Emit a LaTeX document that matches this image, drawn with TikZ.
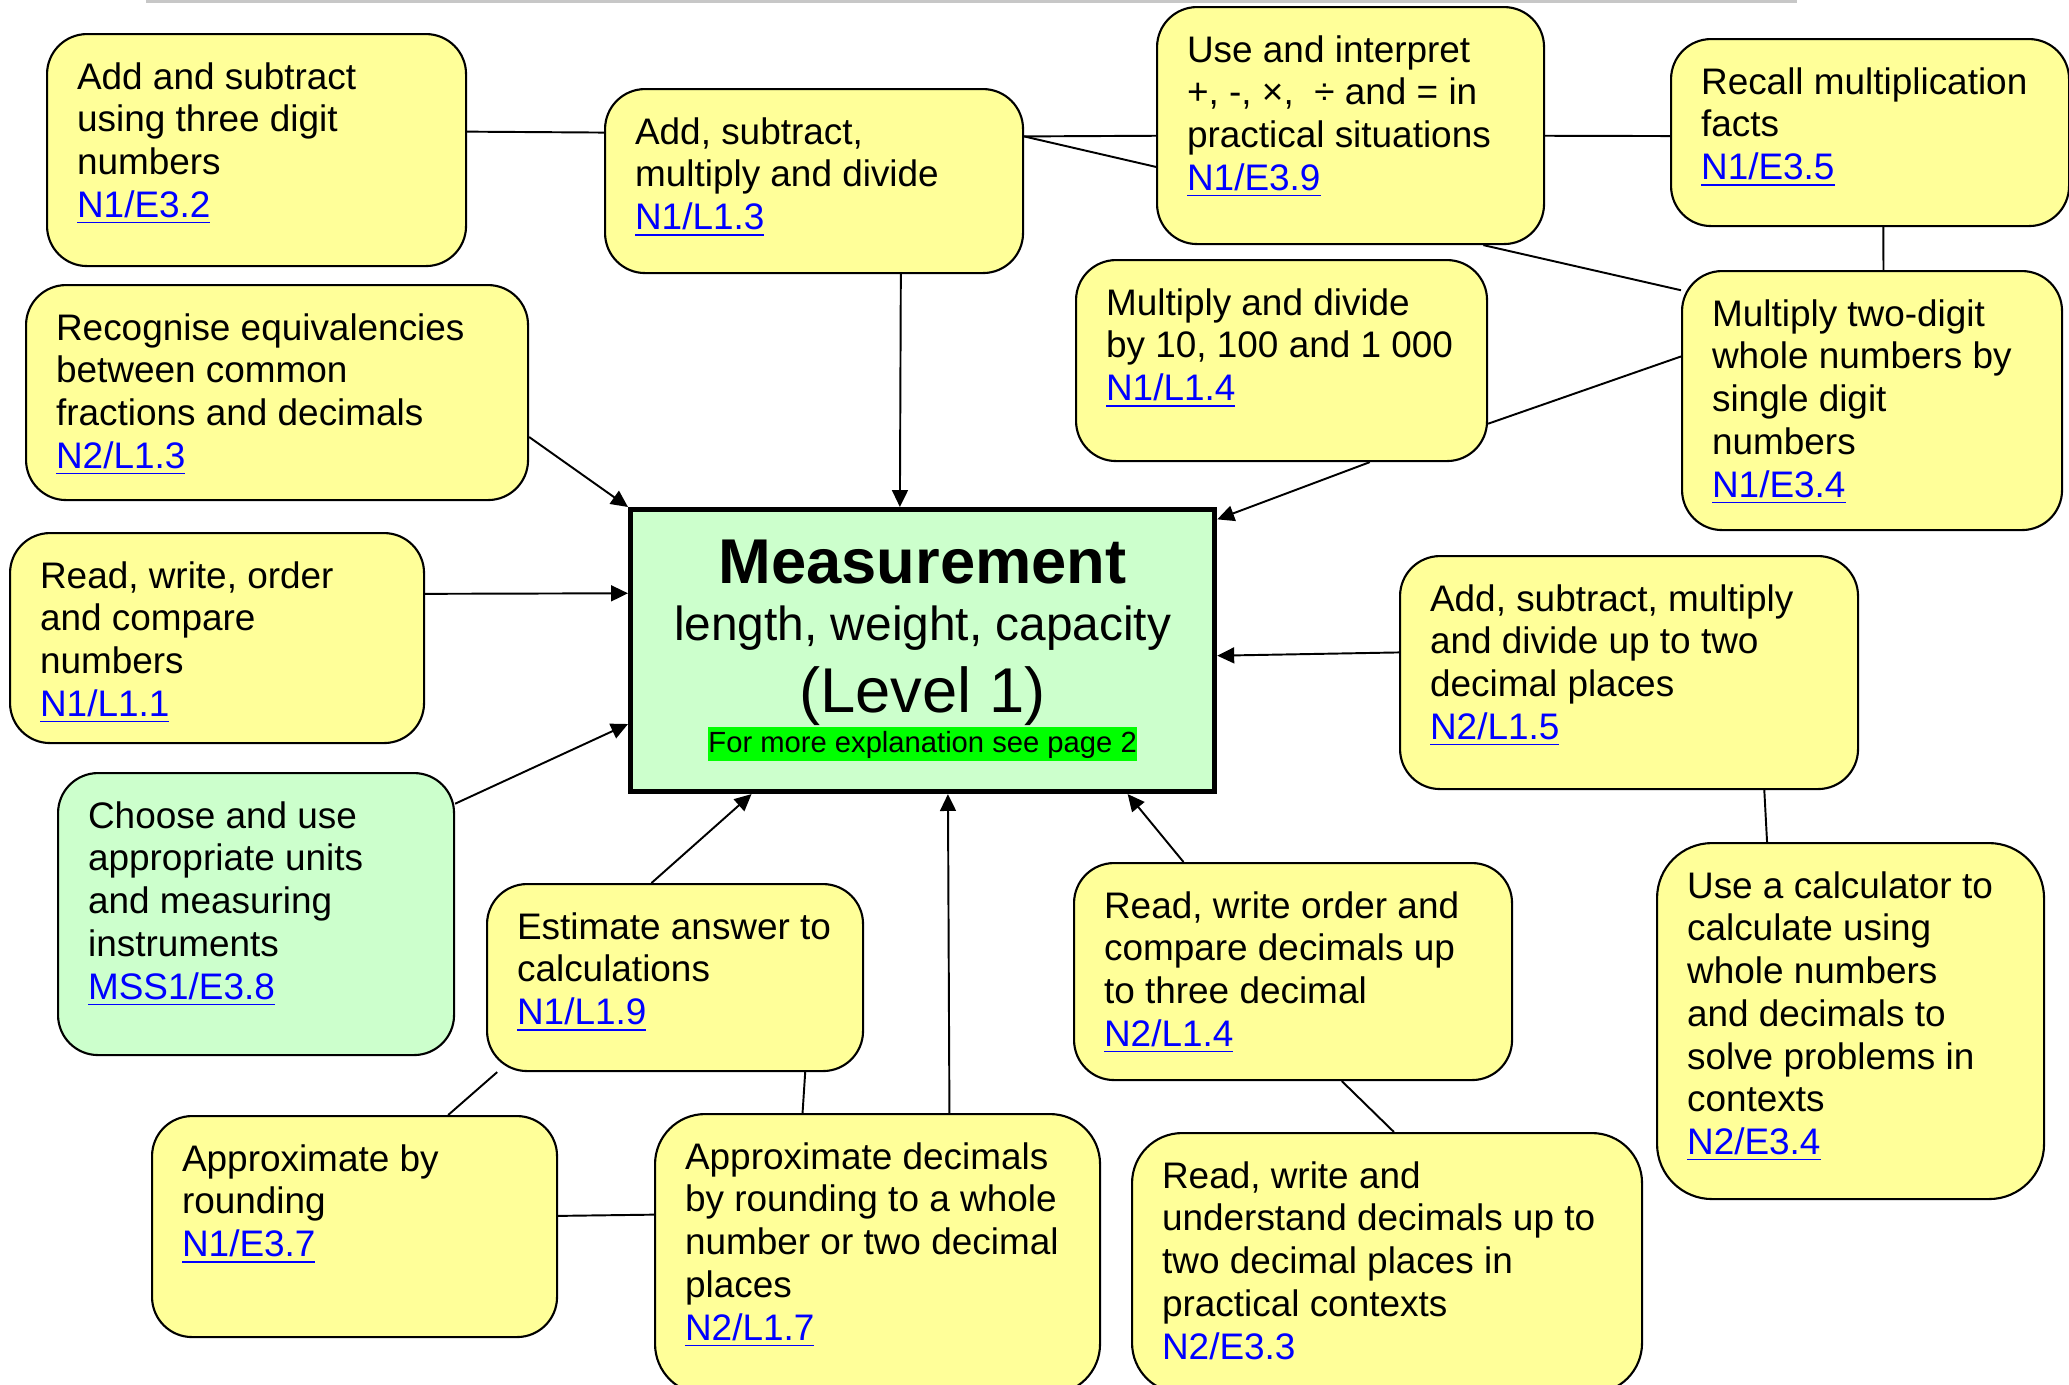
\documentclass[tikz,border=0pt]{standalone}
\usepackage{fontspec}
\setmainfont{Liberation Sans}
\usetikzlibrary{arrows.meta}
\definecolor{boxyellow}{HTML}{FFFF99}
\definecolor{boxgreen}{HTML}{CCFFCC}
\definecolor{hilite}{HTML}{00FF00}
\definecolor{linkblue}{HTML}{0000FF}
\newcommand\lnk[1]{\textcolor{linkblue}{\underline{#1}}}
\begin{document}
\begin{tikzpicture}[x=.01cm,y=-.01cm,
 topic/.style 2 args={draw, line width=.6pt, fill=boxyellow, rounded corners=.4cm, anchor=north west, align=flush left,
   inner xsep=.3cm, inner ysep=0pt, text width=#1*.01cm-.6cm, text height=.55cm, text depth=#2*.01cm-.55cm,
   font={\fontsize{10.5}{12.15}\selectfont}, execute at begin node={\rightskip=0pt plus 1fil minus .5cm}},
 tie/.style={line width=.55pt},
 into/.style={tie, -{Triangle[length=4.8pt,width=4.5pt]}}]
\useasboundingbox (0,0) rectangle (2069,1384);
\draw[black!22, line width=1pt] (146,1) -- (1797,1);
% centre
\node[draw, line width=1.4pt, fill=boxgreen, anchor=north west, inner sep=0pt, text width=5.84cm, align=flush center,
  text height=.74cm, text depth=2.08cm] (X) at (628,507)
  {{\fontsize{18}{21}\selectfont\bfseries Measurement\par}
   {\fontsize{13.6}{16.2}\selectfont length, weight, capacity\par}
   {\fontsize{18}{20.5}\selectfont (Level 1)\par}
   {\fontsize{8.3}{11.4}\selectfont\fboxsep=0pt\colorbox{hilite}{\rule[-2.3pt]{0pt}{9.6pt}For more explanation see page 2}\par}};
% top row
\node[topic={419}{232}] (A) at (46,33) {Add and subtract\\ using three digit\\ numbers\\ \lnk{N1/E3.2}};
\node[topic={418}{184}] (B) at (604,88) {Add, subtract,\\ multiply and divide\\ \lnk{N1/L1.3}};
\node[topic={387}{237}] (C) at (1156,6) {Use and interpret\\ +, -, ×,~~÷ and = in\\ practical situations\\ \lnk{N1/E3.9}};
\node[topic={398}{187}] (D) at (1670,38) {Recall multiplication\\ facts\\ \lnk{N1/E3.5}};
\node[topic={411}{201}] (E) at (1075,259) {Multiply and divide\\ by 10, 100 and 1~000\\ \lnk{N1/L1.4}};
\node[topic={380}{259}] (F) at (1681,270) {Multiply two-digit\\ whole numbers by\\ single digit\\ numbers\\ \lnk{N1/E3.4}};
% left side
\node[topic={502}{215}] (G) at (25,284) {Recognise equivalencies\\ between common\\ fractions and decimals\\ \lnk{N2/L1.3}};
\node[topic={414}{210}] (H) at (9,532) {Read, write, order\\ and compare\\ numbers\\ \lnk{N1/L1.1}};
\node[topic={396}{282}, fill=boxgreen] (J) at (57,772) {Choose and use\\ appropriate units\\ and measuring\\ instruments\\ \lnk{MSS1/E3.8}};
% right side
\node[topic={458}{233}] (I) at (1399,555) {Add, subtract, multiply\\ and divide up to two\\ decimal places\\ \lnk{N2/L1.5}};
\node[topic={387}{356}, rounded corners=.55cm] (M) at (1656,842) {Use a calculator to\\ calculate using\\ whole numbers\\ and decimals to\\ solve problems in\\ contexts\\ \lnk{N2/E3.4}};
% bottom
\node[topic={376}{187}] (K) at (486,883) {Estimate answer to\\ calculations\\ \lnk{N1/L1.9}};
\node[topic={438}{217}] (L) at (1073,862) {Read, write order and\\ compare decimals up\\ to three decimal\\ \lnk{N2/L1.4}};
\node[topic={405}{221}] (N) at (151,1115) {Approximate by\\ rounding\\ \lnk{N1/E3.7}};
\node[topic={445}{280}, rounded corners=.5cm] (O) at (654,1113) {Approximate decimals\\ by rounding to a whole\\ number or two decimal\\ places\\ \lnk{N2/L1.7}};
\node[topic={510}{260}, rounded corners=.5cm] (P) at (1131,1132) {Read, write and\\ understand decimals up to\\ two decimal places in\\ practical contexts\\ \textcolor{linkblue}{N2/E3.3}};
% plain links
\foreach \s/\t in {A.5/B.167, B.12/C.183, B.12/C.192, C.357/D.181, C.318/F.150, D.278/F.85, F.167/E.343,
  I.319/M.115, L.294/P.87, K.324/O.118, K.208/N.50, N.3/O.170}
  \draw[tie] (\s) -- (\t);
% arrows into the centre
\foreach \s/\t in {B.313/X.99, E.311/X.24, G.350/X.north west, H.12/X.169, J.29/X.194, K.104/X.220,
  O.63/X.280, L.135/X.325, I.175/X.359}
  \draw[into] (\s) -- (\t);
\end{tikzpicture}
\end{document}
